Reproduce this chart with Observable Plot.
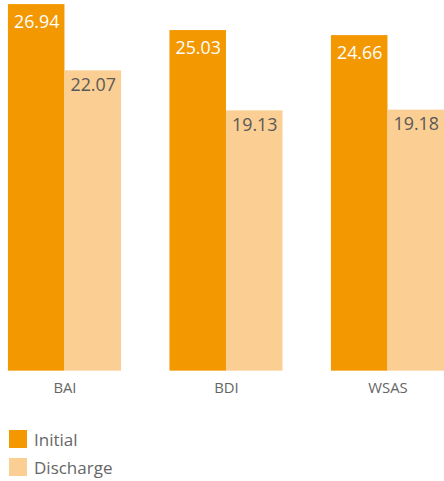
<!DOCTYPE html>
<html>
<head>
<meta charset="utf-8">
<script src="https://cdn.jsdelivr.net/npm/d3@7"></script>
<script src="https://cdn.jsdelivr.net/npm/@observablehq/plot@0.6"></script>
<style>
  html, body { margin: 0; padding: 0; background: #fff; }
  body { font-family: "Open Sans", sans-serif; }
  #wrap { width: 444px; overflow: hidden; }
  .legend { margin-top: 29px; margin-left: 9px; color: #666; font-size: 17px; }
  .row { display: flex; align-items: center; height: 18px; margin-bottom: 10px; }
  .sw { width: 18px; height: 18px; margin-right: 7px; }
</style>
</head>
<body>
<div id="wrap"></div>
<script>
const categories = ["BAI", "BDI", "WSAS"];
const series = ["Initial", "Discharge"];
const initialValues = [26.94, 25.03, 24.66];
const dischargeValues = [22.07, 19.13, 19.18];
const colors = ["#f39800", "#fbcf93"];
const labelColors = ["#ffffff", "#595959"];

const data = [];
categories.forEach((c, i) => {
  data.push({test: c, series: "Initial", value: initialValues[i]});
  data.push({test: c, series: "Discharge", value: dischargeValues[i]});
});

const chart = Plot.plot({
  width: 448,
  height: 405,
  marginTop: 0,
  marginBottom: 31,
  marginLeft: 8,
  marginRight: 0,
  style: {fontFamily: "'Open Sans', sans-serif", fontSize: "15px", color: "#666", background: "transparent", overflow: "visible"},
  fx: {domain: categories, paddingInner: 0.3, paddingOuter: 0, round: false, axis: null, label: null},
  x: {domain: series, padding: 0, round: false, axis: null},
  y: {domain: [0, 27.24], axis: null},
  color: {domain: series, range: colors},
  marks: [
    Plot.barY(data, {fx: "test", x: "series", y: "value", fill: "series"}),
    Plot.text(data.filter(d => d.series === "Initial"), {
      fx: "test", x: "series", y: "value", text: d => d.value.toFixed(2),
      lineAnchor: "bottom", dy: 24, fontSize: 18, fill: labelColors[0]
    }),
    Plot.text(data.filter(d => d.series === "Discharge"), {
      fx: "test", x: "series", y: "value", text: d => d.value.toFixed(2),
      lineAnchor: "bottom", dy: 20, fontSize: 18, fill: labelColors[1]
    }),
    Plot.text(categories, {
      fx: d => d, text: d => d, frameAnchor: "bottom",
      lineAnchor: "bottom", dy: 22, fontSize: 15, fill: "#666"
    })
  ]
});
const wrap = document.getElementById("wrap");
wrap.appendChild(chart);

const legend = document.createElement("div");
legend.className = "legend";
series.forEach((s, i) => {
  const row = document.createElement("div");
  row.className = "row";
  const sw = document.createElement("span");
  sw.className = "sw";
  sw.style.background = colors[i];
  const t = document.createElement("span");
  t.textContent = s;
  row.appendChild(sw);
  row.appendChild(t);
  legend.appendChild(row);
});
wrap.appendChild(legend);
</script>
</body>
</html>
